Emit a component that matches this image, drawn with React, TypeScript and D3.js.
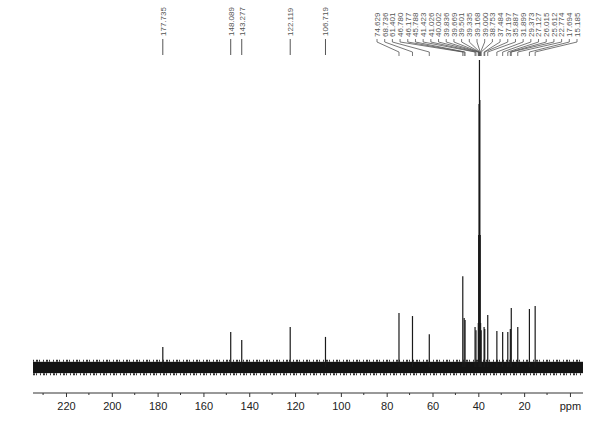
import React, { useEffect, useRef } from 'react';
import * as d3 from 'd3';

// isolated (labelled with a plain tick) peaks, ppm
const lowFieldPpm = [177.735, 148.089, 143.277, 122.119, 106.719];
const lowFieldHeight = [6.5, 11.4, 8.8, 13.0, 9.8];

// crowded aliphatic region, labels fanned out with leader lines
const highFieldPpm = [
    74.629, 68.736, 61.401, 46.780, 46.177, 45.788, 41.423, 41.026, 40.002,
    39.836, 39.669, 39.501, 39.335, 39.168, 39.000, 38.753, 37.484, 37.197,
    35.887, 31.899, 29.373, 27.127, 26.015, 25.612, 22.774, 17.694, 15.185,
];
const highFieldHeight = [
    17.6, 16.6, 10.7, 29.6, 16.0, 15.3, 13.0, 12.0, 14.3,
    43.0, 85.7, 100, 87.0, 43.0, 14.3, 12.0, 13.0, 12.4,
    16.9, 11.7, 11.4, 11.4, 12.4, 19.2, 13.0, 18.9, 19.9,
];

const axisTicks = [220, 200, 180, 160, 140, 120, 100, 80, 60, 40, 20, 0];
const minorTicks = [230, 210, 190, 170, 150, 130, 110, 90, 70, 50, 30, 10];
const noiseBand = [-2.0, 1.7]; // baseline noise envelope, intensity units

const App = () => {
    const ref = useRef<SVGSVGElement>(null);

    useEffect(() => {
        const svg = d3.select(ref.current);
        svg.selectAll("*").remove();

        const width = 600;
        const height = 421;

        const x = d3.scaleLinear().domain([234.4, -5.7]).range([33, 583]);
        const y = d3.scaleLinear().domain([0, 100]).range([367, 60]);

        svg.append("rect").attr("width", width).attr("height", height).attr("fill", "#fff");

        // noise band, with a ragged edge top and bottom
        const bandX0 = x(234.4);
        const bandX1 = x(-5.7);
        svg.append("rect")
            .attr("x", bandX0)
            .attr("y", y(noiseBand[1]))
            .attr("width", bandX1 - bandX0)
            .attr("height", y(noiseBand[0]) - y(noiseBand[1]))
            .attr("fill", "#141414");
        [y(noiseBand[1]) - 1, y(noiseBand[0]) + 1].forEach((yy, k) => {
            svg.append("line")
                .attr("x1", bandX0).attr("x2", bandX1)
                .attr("y1", yy).attr("y2", yy)
                .attr("stroke", "#333")
                .attr("stroke-width", 2)
                .attr("stroke-dasharray", k === 0 ? "1 2 2 1 1 3" : "2 1 1 3 1 2");
        });

        const peaks = lowFieldPpm.map((p, i) => ({ p, h: lowFieldHeight[i] }))
            .concat(highFieldPpm.map((p, i) => ({ p, h: highFieldHeight[i] })));

        svg.selectAll(".peak")
            .data(peaks)
            .enter()
            .append("line")
            .attr("class", "peak")
            .attr("x1", d => x(d.p))
            .attr("x2", d => x(d.p))
            .attr("y1", y(0))
            .attr("y2", d => y(d.h))
            .attr("stroke", "#1a1a1a")
            .attr("stroke-width", 1.2);

        const labelFont = "'Liberation Sans', Arial, sans-serif";

        // isolated labels
        const low = svg.append("g");
        low.selectAll("line")
            .data(lowFieldPpm)
            .enter()
            .append("line")
            .attr("x1", d => x(d)).attr("x2", d => x(d))
            .attr("y1", 39).attr("y2", 55)
            .attr("stroke", "#555").attr("stroke-width", 1);
        low.selectAll("text")
            .data(lowFieldPpm)
            .enter()
            .append("text")
            .attr("transform", d => `translate(${x(d)},36) rotate(-90)`)
            .attr("dy", "0.35em")
            .attr("font-size", 8)
            .attr("font-family", labelFont)
            .attr("fill", "#555")
            .text(d => d.toFixed(3));

        // crowded labels with leaders
        const lx = d3.scaleLinear().domain([0, highFieldPpm.length - 1]).range([377, 577]);
        const high = svg.append("g");
        high.selectAll("path")
            .data(highFieldPpm)
            .enter()
            .append("path")
            .attr("d", (d, i) => `M${lx(i)},39 L${lx(i)},42 L${x(d)},52 L${x(d)},56`)
            .attr("fill", "none")
            .attr("stroke", "#555")
            .attr("stroke-width", 0.8);
        high.selectAll("text")
            .data(highFieldPpm)
            .enter()
            .append("text")
            .attr("transform", (d, i) => `translate(${lx(i)},37) rotate(-90)`)
            .attr("dy", "0.35em")
            .attr("font-size", 8)
            .attr("font-family", labelFont)
            .attr("fill", "#555")
            .text(d => d.toFixed(3));

        // ppm axis
        const axisY = 393;
        const axis = svg.append("g")
            .attr("transform", `translate(0,${axisY})`)
            .call(d3.axisBottom(x)
                .tickValues(axisTicks)
                .tickSize(4)
                .tickFormat(d => (d === 0 ? "ppm" : String(d))));
        axis.select(".domain").attr("stroke", "#333").attr("d", `M${bandX0},0H${bandX1}`);
        axis.selectAll(".tick line").attr("stroke", "#333");
        axis.selectAll(".tick text")
            .attr("font-size", 11)
            .attr("font-family", "Arial, 'Liberation Sans', sans-serif")
            .attr("fill", "#222")
            .attr("dy", "0.9em");

        svg.append("g")
            .attr("transform", `translate(0,${axisY})`)
            .selectAll("line")
            .data(minorTicks)
            .enter()
            .append("line")
            .attr("x1", d => x(d)).attr("x2", d => x(d))
            .attr("y1", 0).attr("y2", 2)
            .attr("stroke", "#333");
    }, []);

    return (
        <svg
            ref={ref}
            width="600"
            height="421"
            style={{ position: "absolute", left: 0, top: 0 }}
        ></svg>
    );
};

export default App;
